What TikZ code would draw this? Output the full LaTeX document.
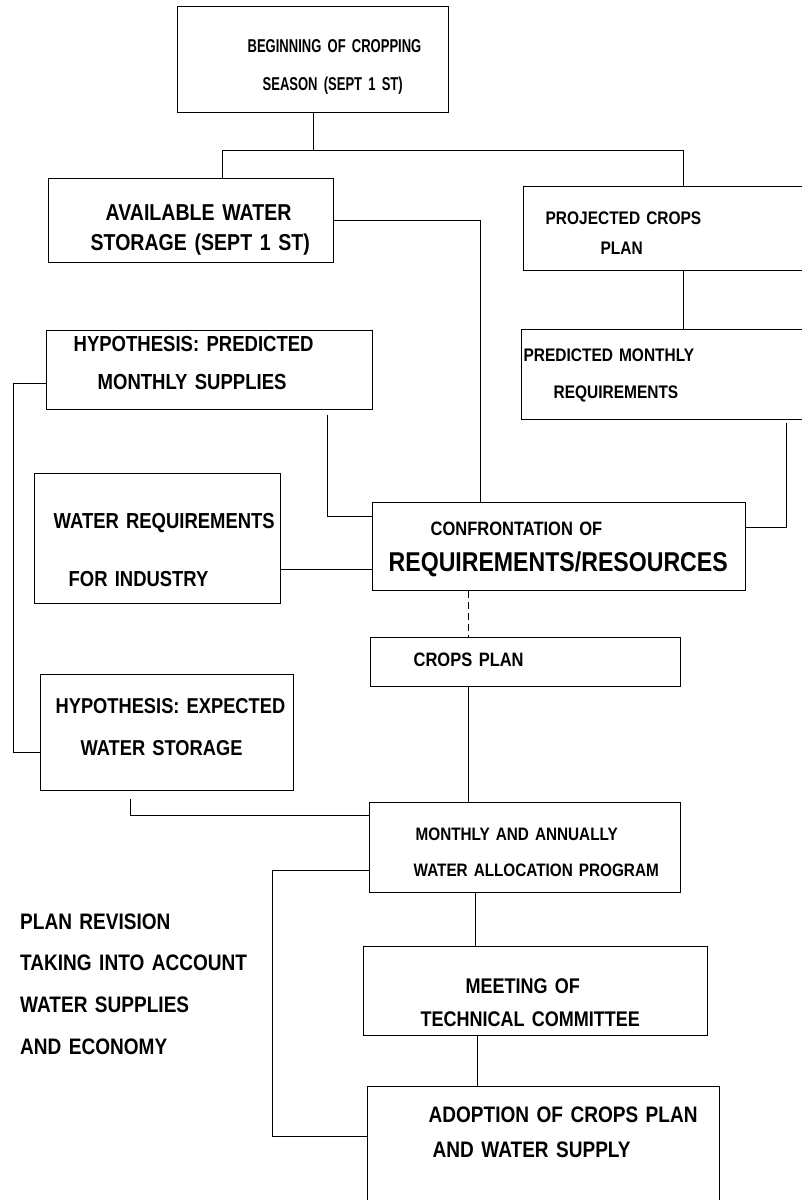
\documentclass[tikz,border=0pt]{standalone}
\usepackage{fontspec}
\setmainfont[FakeStretch=0.85]{Liberation Sans}
\newfontfamily\narrowsans[FakeStretch=0.7]{Liberation Sans}
\usepackage{tikz}
\usetikzlibrary{positioning,calc}
\newcommand{\fs}[2]{\fontsize{#1}{#2}\selectfont\bfseries}
\newcommand{\tp}[1]{\rule{0pt}{#1pt}}
\newcommand{\bt}[1]{\rule[-#1pt]{0pt}{#1pt}}

\begin{document}
\begin{tikzpicture}[
  x=1pt, y=-1pt,
  box/.style={draw, line width=1.3pt, inner sep=0pt, align=left, anchor=north west},
  note/.style={inner sep=0pt, align=left, anchor=north west},
  link/.style={line width=1pt}
]
\useasboundingbox (0,0) rectangle (802,1200);
\node[box, text width=271pt, font=\narrowsans\fs{18.6}{38}] (begin) at (177,6) {\tp{46}\hspace*{70pt}BEGINNING OF CROPPING\\\hspace*{85pt}SEASON (SEPT 1 ST)\bt{22}};
\node[box, text width=285pt, font=\fs{23}{30}] (avail) at (48,178) {\tp{42}\hspace*{57pt}AVAILABLE WATER\\\hspace*{42pt}STORAGE (SEPT 1 ST)\bt{12}};
\node[box, text width=317pt, font=\fs{18.2}{30}] (proj) at (523,186) {\tp{38}\hspace*{22pt}PROJECTED CROPS\\\hspace*{77pt}PLAN\bt{16}};
\node[box, text width=326pt, font=\fs{21.8}{38}] (hypp) at (46,330) {\tp{21}\hspace*{27pt}HYPOTHESIS: PREDICTED\\\hspace*{51pt}MONTHLY SUPPLIES\bt{20}};
\node[box, text width=319pt, font=\fs{18.2}{37}] (predm) at (521,329) {\tp{32}\hspace*{2pt}PREDICTED MONTHLY\\\hspace*{32pt}REQUIREMENTS\bt{21}};
\node[box, text width=246pt, font=\fs{21.7}{58}] (indus) at (34,473) {\tp{55}\hspace*{19pt}WATER REQUIREMENTS\\\hspace*{34pt}FOR INDUSTRY\bt{17}};
\node[box, text width=373pt, font=\fs{19.4}{36}] (conf) at (372,502) {\tp{33}\hspace*{58pt}CONFRONTATION OF\\\hspace*{16pt}{\fs{27.2}{36}REQUIREMENTS/RESOURCES}\bt{19}};
\node[box, text width=310pt, font=\fs{19.4}{30}] (crops) at (370,637) {\tp{29}\hspace*{43pt}CROPS PLAN\bt{20}};
\node[box, text width=253pt, font=\fs{21.5}{42}] (hype) at (40,674) {\tp{39}\hspace*{15pt}HYPOTHESIS: EXPECTED\\\hspace*{40pt}WATER STORAGE\bt{35}};
\node[box, text width=311pt, font=\fs{18}{36}] (month) at (369,802) {\tp{38}\hspace*{46pt}MONTHLY AND ANNUALLY\\\hspace*{44pt}WATER ALLOCATION PROGRAM\bt{16}};
\node[box, text width=344pt, font=\fs{21.2}{33}] (meet) at (363,946) {\tp{47}\hspace*{102pt}MEETING OF\\\hspace*{57pt}TECHNICAL COMMITTEE\bt{9}};
\node[box, text width=352pt, font=\fs{22.4}{35}] (adopt) at (367,1086) {\tp{36}\hspace*{61pt}ADOPTION OF CROPS PLAN\\\hspace*{65pt}AND WATER SUPPLY\bt{58}};
\node[note, text width=250pt, font=\fs{22.4}{41.7}] (rev) at (20,900) {\tp{29}PLAN REVISION\\TAKING INTO ACCOUNT\\WATER SUPPLIES\\AND ECONOMY};
\coordinate (busL) at (222,150);
\coordinate (busR) at (683,150);
\coordinate (storeX) at ([xshift=108pt]conf.north west);
\coordinate (hyppOut) at ([xshift=-46pt,yshift=-5pt]hypp.south east);
\coordinate (predmOut) at ([xshift=-55pt,yshift=-3pt]predm.south east);
\coordinate (indusOut) at ([yshift=-31pt]indus.east);
\coordinate (confOut) at ([xshift=96pt]conf.south west);
\coordinate (cropsOut) at ([xshift=98pt]crops.south west);
\coordinate (hypeOut) at ([xshift=90pt,yshift=-8pt]hype.south west);
\coordinate (monthOut) at ([xshift=106pt]month.south west);
\coordinate (meetOut) at ([xshift=114pt]meet.south west);
\draw[link] (begin.south) -- (begin.south |- busL);
\draw[link] (busL |- avail.north) -- (busL) -- (busR) -- (busR |- proj.north);
\draw[link] (avail.east) -| (storeX);
\draw[link] (proj.south -| busR) -- (predm.north -| busR);
\draw[link] (hyppOut) |- ([yshift=30pt]conf.west);
\draw[link] (predmOut) |- ([yshift=19pt]conf.east);
\draw[link] ([yshift=-13pt]hypp.west) -- ++(-33,0) |- ([yshift=-20pt]hype.west);
\draw[link] (indusOut) -- (indusOut -| conf.west);
\draw[link, dash pattern=on 7pt off 4pt] (confOut) -- (confOut |- crops.north);
\draw[link] (cropsOut) -- (cropsOut |- month.north);
\draw[link] (hypeOut) |- ([yshift=32pt]month.west);
\draw[link] ([yshift=-23pt]month.west) -- ++(-97,0) |- ([yshift=15pt]adopt.west);
\draw[link] (monthOut) -- (monthOut |- meet.north);
\draw[link] (meetOut) -- (meetOut |- adopt.north);
\end{tikzpicture}
\end{document}
